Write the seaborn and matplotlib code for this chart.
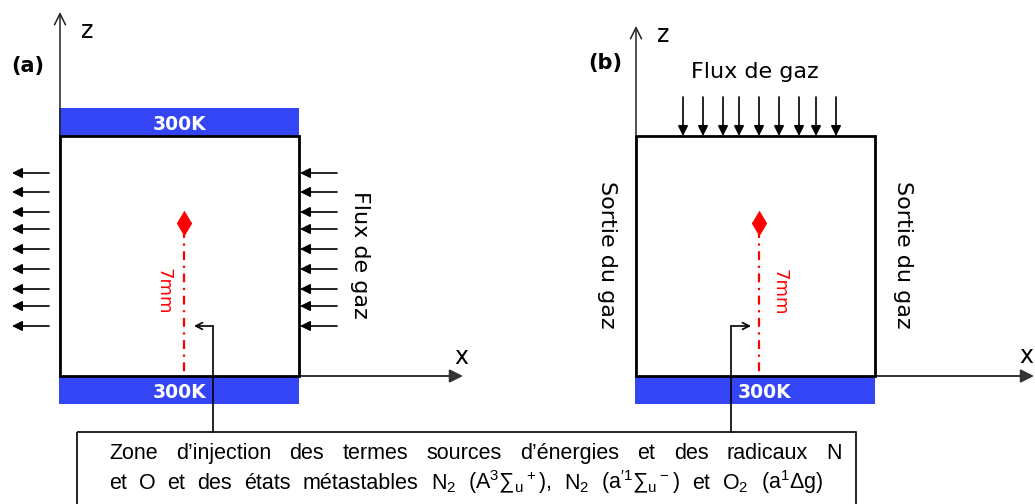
import matplotlib
matplotlib.use("Agg")
import matplotlib.pyplot as plt  # noqa: E402
import seaborn as sns  # noqa: E402
import pandas as pd  # noqa: E402
from matplotlib.patches import Rectangle, FancyArrowPatch  # noqa: E402

# =============================================================================
# DATA (diagram layout, in pixel units of the 1035x504 canvas)
# =============================================================================
panel_labels = ["(a)", "(b)"]
wall_temp = "300K"
flux_label = "Flux de gaz"
exit_label = "Sortie du gaz"
dist_label = "7mm"
# heights of the horizontal gas-flow arrows of panel (a)
flux_rows_a = [173, 192, 212, 229, 249, 269, 289, 306, 326]
# columns of the vertical gas-flow arrows of panel (b)
flux_cols_b = [683, 703, 723, 739, 759, 779, 799, 816, 836]
# injection points (x, z) of panels (a) and (b)
source_x = [184, 759]
source_z = [223, 223]
note_line1 = "Zone d’injection des termes sources d’énergies et des radicaux N"
note_line2 = ("et O et des états métastables N$_2$ (A$^3$∑$_u$$^+$), "
              "N$_2$ (a$^{\\prime1}$∑$_u$$^-$) et O$_2$ (a$^1$Δg)")

BLUE = "#3345f5"
RED = "#ff0000"

sns.set_theme(style="white")
plt.rcParams["font.family"] = ["DejaVu Sans"]
plt.rcParams["text.color"] = "black"
plt.rcParams["mathtext.fontset"] = "custom"
plt.rcParams["mathtext.rm"] = "Liberation Sans"
plt.rcParams["mathtext.default"] = "regular"

fig = plt.figure(figsize=(10.35, 5.04), dpi=100)
ax = fig.add_axes([0, 0, 1, 1])
ax.set_xlim(0, 1035)
ax.set_ylim(504, 0)
ax.axis("off")


def arrow(p0, p1, style="-|>", ms=12, lw=1.2, color="black", z=5):
    ax.add_patch(FancyArrowPatch(p0, p1, arrowstyle=style, mutation_scale=ms,
                                 lw=lw, color=color, zorder=z,
                                 shrinkA=0, shrinkB=0))


def domain(x0, x1, top_bar):
    # wall bars
    ax.add_patch(Rectangle((x0 - 1, 376), x1 - x0 + 1, 28, color=BLUE, lw=0, zorder=1))
    ax.text((x0 + x1) / 2 + (0 if top_bar else 9), 392, wall_temp, color="white",
            fontsize=13.5, fontweight="bold", ha="center", va="center", zorder=3)
    if top_bar:
        ax.add_patch(Rectangle((x0 - 1, 108), x1 - x0 + 1, 28, color=BLUE, lw=0, zorder=1))
        ax.text((x0 + x1) / 2, 125, wall_temp, color="white",
                fontsize=13.5, fontweight="bold", ha="center", va="center", zorder=3)
    # computational box
    ax.add_patch(Rectangle((x0, 136), x1 - x0, 240, fill=False, ec="black", lw=2, zorder=4))


# ---- panel (a) ----
domain(60, 299, True)
arrow((60, 376), (60, 12), style="->", ms=20, lw=1.1, color="#222222", z=2)
arrow((299, 376), (463, 376), ms=20, lw=1.4, color="#333333", z=2)
ax.text(87, 31, "z", fontsize=17, ha="center", va="center")
ax.text(461, 357, "x", fontsize=17, ha="center", va="center")
ax.text(28, 66, panel_labels[0], fontsize=15, fontweight="bold", ha="center", va="center")
for y in flux_rows_a:
    arrow((49, y), (12, y), ms=15)
    arrow((337, y), (300, y), ms=15)
ax.text(360, 255, flux_label, fontsize=16, rotation=270, ha="center", va="center")

# ---- panel (b) ----
domain(636, 875, False)
arrow((636, 376), (636, 26), style="->", ms=20, lw=1.1, color="#222222", z=2)
arrow((875, 376), (1034, 376), ms=20, lw=1.4, color="#333333", z=2)
ax.text(663, 35, "z", fontsize=17, ha="center", va="center")
ax.text(1026, 356, "x", fontsize=17, ha="center", va="center")
ax.text(605, 63, panel_labels[1], fontsize=15, fontweight="bold", ha="center", va="center")
for x in flux_cols_b:
    arrow((x, 97), (x, 136), ms=15)
ax.text(755, 72, flux_label, fontsize=16, ha="center", va="center")
ax.text(607, 255, exit_label, fontsize=16, rotation=270, ha="center", va="center")
ax.text(903, 255, exit_label, fontsize=16, rotation=270, ha="center", va="center")

# ---- injection points and 7 mm marks ----
src = pd.DataFrame({"x": source_x, "z": source_z})
for sx, sz in zip(source_x, source_z):
    ax.plot([sx, sx], [sz + 6, 376], color=RED, lw=1.6, ls=(0, (4, 2.5, 1, 2.5)), zorder=3)
sns.scatterplot(data=src, x="x", y="z", marker="d", s=170, color=RED,
                edgecolor=RED, linewidth=0, ax=ax, zorder=6, legend=False)
ax.text(source_x[0] - 20, 291, dist_label, color=RED, fontsize=13, rotation=270,
        ha="center", va="center")
ax.text(source_x[1] + 21, 292, dist_label, color=RED, fontsize=13, rotation=270,
        ha="center", va="center")
ax.set_xlim(0, 1035)
ax.set_ylim(504, 0)
ax.set_xlabel("")
ax.set_ylabel("")

# ---- connectors to the legend box ----
ax.plot([213, 213], [432, 326], color="black", lw=1.2, zorder=7)
arrow((213, 326), (194, 326), style="->", ms=12, lw=1.2, z=7)
ax.plot([731, 731], [432, 326], color="black", lw=1.2, zorder=7)
arrow((731, 326), (751, 326), style="->", ms=12, lw=1.2, z=7)

# ---- legend box with justified text ----
ax.add_patch(Rectangle((77, 432), 779, 90, fill=False, ec="black", lw=1.2, zorder=7))
note_font = ["Liberation Sans Narrow", "Liberation Sans"]


def justified(line, y, x0, x1):
    words = line.split(" ")
    texts = [ax.text(0, y, w, fontsize=15.5, family=note_font, ha="left", va="baseline")
             for w in words]
    fig.canvas.draw()
    inv = ax.transData.inverted()
    widths = []
    for t in texts:
        bb = t.get_window_extent()
        (a, _), (b, _) = inv.transform([(bb.x0, bb.y0), (bb.x1, bb.y0)])
        widths.append(b - a)
    gap = (x1 - x0 - sum(widths)) / (len(words) - 1)
    x = x0
    for t, w in zip(texts, widths):
        t.set_x(x)
        x += w + gap


justified(note_line1, 459, 109, 842)
justified(note_line2, 489, 109, 823)

fig.savefig("out.png", dpi=100)
